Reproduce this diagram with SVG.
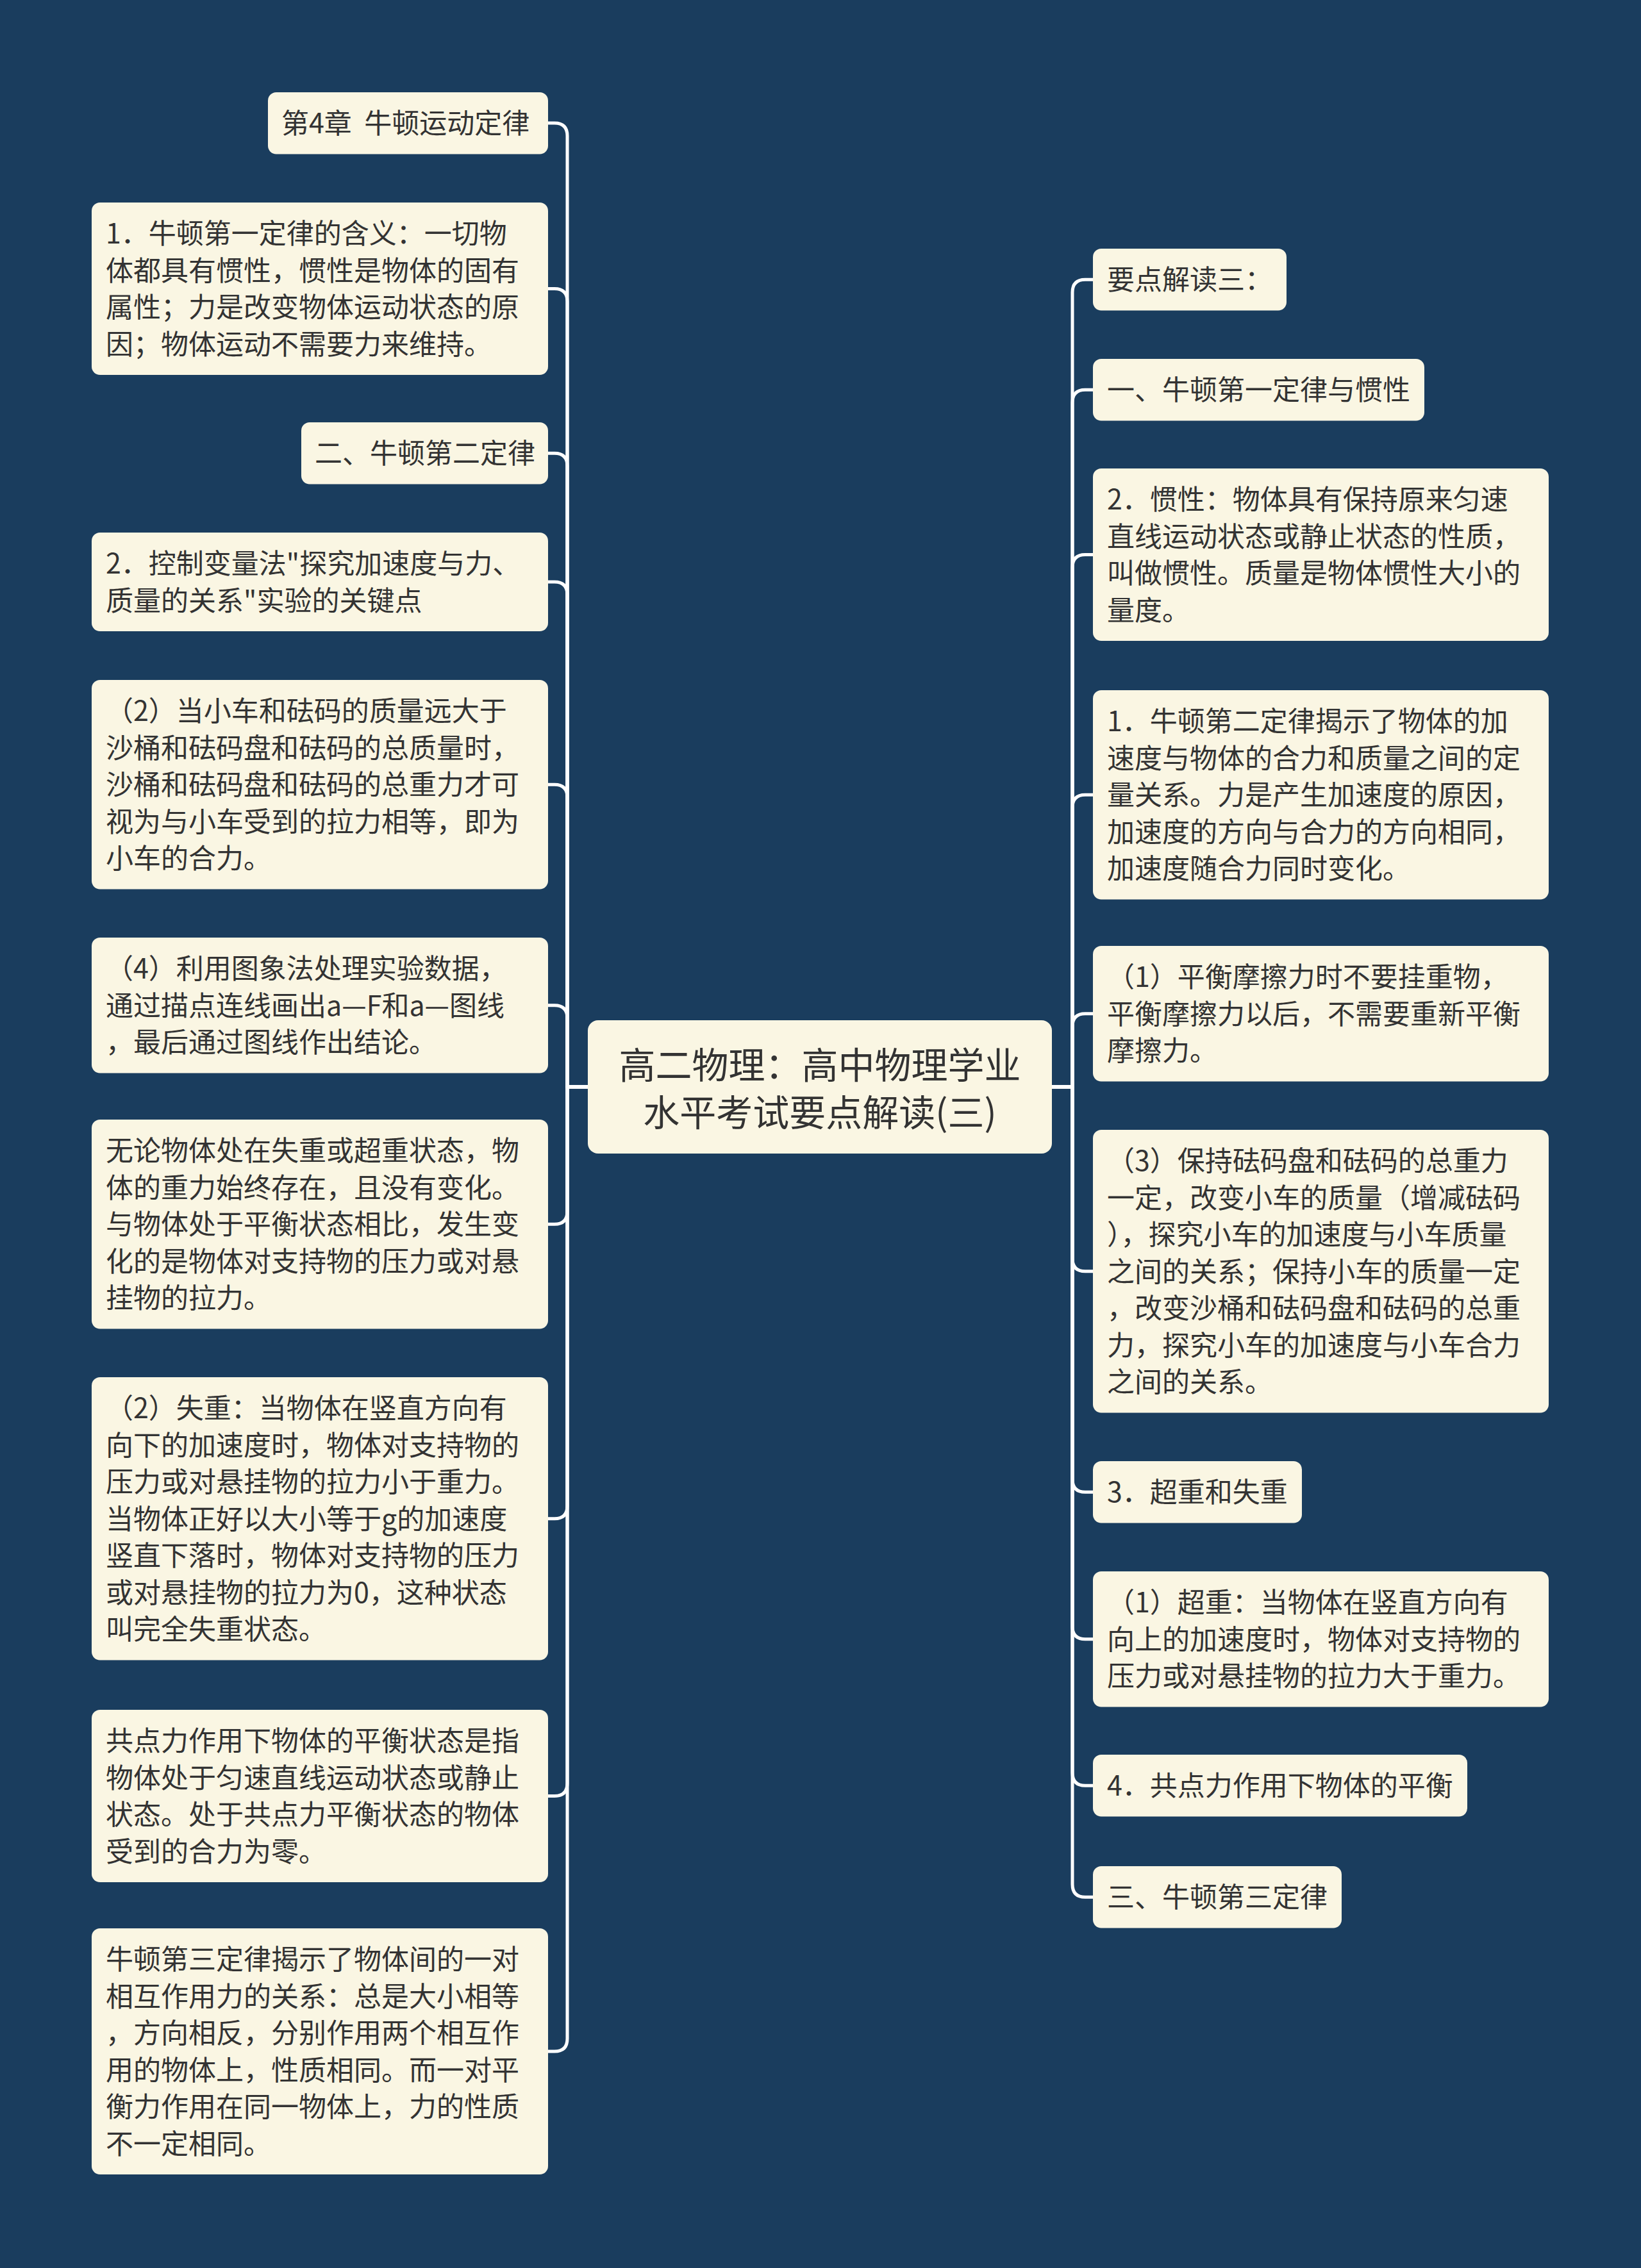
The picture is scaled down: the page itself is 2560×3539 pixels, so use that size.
<svg xmlns="http://www.w3.org/2000/svg" width="2560" height="3539" viewBox="0 0 2560 3539">
<style>
.bg{fill:#1a3d5e}
.box{fill:#faf6e3;stroke:none}
.t{font-family:"Noto Sans CJK SC","Noto Sans",sans-serif;font-size:43px;fill:#333333}
.ct{font-family:"Noto Sans CJK SC","Noto Sans",sans-serif;font-size:57px;fill:#333333;text-anchor:middle}
.ln{fill:none;stroke:#ffffff;stroke-width:5;stroke-linejoin:round;stroke-linecap:round}
</style>
<rect class="bg" x="0" y="0" width="2560" height="3539"/>
<g id="connectors">
<path class="ln" d="M917,1696 H885 V212 Q885,192 865,192 H855"/>
<path class="ln" d="M917,1696 H885 V470.5 Q885,450.5 865,450.5 H855"/>
<path class="ln" d="M917,1696 H885 V727.25 Q885,707.25 865,707.25 H855"/>
<path class="ln" d="M917,1696 H885 V928 Q885,908 865,908 H855"/>
<path class="ln" d="M917,1696 H885 V1244.25 Q885,1224.25 865,1224.25 H855"/>
<path class="ln" d="M917,1696 H885 V1588.75 Q885,1568.75 865,1568.75 H855"/>
<path class="ln" d="M917,1696 H885 V1890.25 Q885,1910.25 865,1910.25 H855"/>
<path class="ln" d="M917,1696 H885 V2349.75 Q885,2369.75 865,2369.75 H855"/>
<path class="ln" d="M917,1696 H885 V2782.5 Q885,2802.5 865,2802.5 H855"/>
<path class="ln" d="M917,1696 H885 V3181 Q885,3201 865,3201 H855"/>
<path class="ln" d="M1641,1696 H1673 V456.25 Q1673,436.25 1693,436.25 H1705"/>
<path class="ln" d="M1641,1696 H1673 V628.25 Q1673,608.25 1693,608.25 H1705"/>
<path class="ln" d="M1641,1696 H1673 V885.5 Q1673,865.5 1693,865.5 H1705"/>
<path class="ln" d="M1641,1696 H1673 V1260.25 Q1673,1240.25 1693,1240.25 H1705"/>
<path class="ln" d="M1641,1696 H1673 V1601.75 Q1673,1581.75 1693,1581.75 H1705"/>
<path class="ln" d="M1641,1696 H1673 V1963.75 Q1673,1983.75 1693,1983.75 H1705"/>
<path class="ln" d="M1641,1696 H1673 V2308.25 Q1673,2328.25 1693,2328.25 H1705"/>
<path class="ln" d="M1641,1696 H1673 V2537.75 Q1673,2557.75 1693,2557.75 H1705"/>
<path class="ln" d="M1641,1696 H1673 V2766.25 Q1673,2786.25 1693,2786.25 H1705"/>
<path class="ln" d="M1641,1696 H1673 V2940.25 Q1673,2960.25 1693,2960.25 H1705"/>
</g>
<g id="center">
<rect class="box" x="917" y="1592" width="724" height="208" rx="16"/>
<text class="ct" x="1279" y="1683">高二物理：高中物理学业</text>
<text class="ct" x="1279" y="1757">水平考试要点解读(三)</text>
</g>
<g id="L1">
<rect class="box" x="418" y="144" width="437" height="96.5" rx="13"/>
<text class="t" x="439" y="208.25" xml:space="preserve">第4章  牛顿运动定律</text>
</g>
<g id="L2">
<rect class="box" x="143" y="316" width="712" height="269" rx="13"/>
<text class="t" x="165" y="380.25">1．牛顿第一定律的含义：一切物</text>
<text class="t" x="165" y="437.75">体都具有惯性，惯性是物体的固有</text>
<text class="t" x="165" y="495.25">属性；力是改变物体运动状态的原</text>
<text class="t" x="165" y="552.75">因；物体运动不需要力来维持。</text>
</g>
<g id="L3">
<rect class="box" x="470" y="659" width="385" height="96.5" rx="13"/>
<text class="t" x="491" y="723.25">二、牛顿第二定律</text>
</g>
<g id="L4">
<rect class="box" x="143" y="831" width="712" height="154" rx="13"/>
<text class="t" x="165" y="895.25">2．控制变量法"探究加速度与力、</text>
<text class="t" x="165" y="952.75">质量的关系"实验的关键点</text>
</g>
<g id="L5">
<rect class="box" x="143" y="1061" width="712" height="326.5" rx="13"/>
<text class="t" x="165" y="1125.25">（2）当小车和砝码的质量远大于</text>
<text class="t" x="165" y="1182.75">沙桶和砝码盘和砝码的总质量时，</text>
<text class="t" x="165" y="1240.25">沙桶和砝码盘和砝码的总重力才可</text>
<text class="t" x="165" y="1297.75">视为与小车受到的拉力相等，即为</text>
<text class="t" x="165" y="1355.25">小车的合力。</text>
</g>
<g id="L6">
<rect class="box" x="143" y="1463" width="712" height="211.5" rx="13"/>
<text class="t" x="165" y="1527.25">（4）利用图象法处理实验数据，</text>
<text class="t" x="165" y="1584.75">通过描点连线画出a—F和a—图线</text>
<text class="t" x="165" y="1642.25">，最后通过图线作出结论。</text>
</g>
<g id="L7">
<rect class="box" x="143" y="1747" width="712" height="326.5" rx="13"/>
<text class="t" x="165" y="1811.25">无论物体处在失重或超重状态，物</text>
<text class="t" x="165" y="1868.75">体的重力始终存在，且没有变化。</text>
<text class="t" x="165" y="1926.25">与物体处于平衡状态相比，发生变</text>
<text class="t" x="165" y="1983.75">化的是物体对支持物的压力或对悬</text>
<text class="t" x="165" y="2041.25">挂物的拉力。</text>
</g>
<g id="L8">
<rect class="box" x="143" y="2149" width="712" height="441.5" rx="13"/>
<text class="t" x="165" y="2213.25">（2）失重：当物体在竖直方向有</text>
<text class="t" x="165" y="2270.75">向下的加速度时，物体对支持物的</text>
<text class="t" x="165" y="2328.25">压力或对悬挂物的拉力小于重力。</text>
<text class="t" x="165" y="2385.75">当物体正好以大小等于g的加速度</text>
<text class="t" x="165" y="2443.25">竖直下落时，物体对支持物的压力</text>
<text class="t" x="165" y="2500.75">或对悬挂物的拉力为0，这种状态</text>
<text class="t" x="165" y="2558.25">叫完全失重状态。</text>
</g>
<g id="L9">
<rect class="box" x="143" y="2668" width="712" height="269" rx="13"/>
<text class="t" x="165" y="2732.25">共点力作用下物体的平衡状态是指</text>
<text class="t" x="165" y="2789.75">物体处于匀速直线运动状态或静止</text>
<text class="t" x="165" y="2847.25">状态。处于共点力平衡状态的物体</text>
<text class="t" x="165" y="2904.75">受到的合力为零。</text>
</g>
<g id="L10">
<rect class="box" x="143" y="3009" width="712" height="384" rx="13"/>
<text class="t" x="165" y="3073.25">牛顿第三定律揭示了物体间的一对</text>
<text class="t" x="165" y="3130.75">相互作用力的关系：总是大小相等</text>
<text class="t" x="165" y="3188.25">，方向相反，分别作用两个相互作</text>
<text class="t" x="165" y="3245.75">用的物体上，性质相同。而一对平</text>
<text class="t" x="165" y="3303.25">衡力作用在同一物体上，力的性质</text>
<text class="t" x="165" y="3360.75">不一定相同。</text>
</g>
<g id="R1">
<rect class="box" x="1705" y="388" width="302" height="96.5" rx="13"/>
<text class="t" x="1727" y="452.25">要点解读三：</text>
</g>
<g id="R2">
<rect class="box" x="1705" y="560" width="517" height="96.5" rx="13"/>
<text class="t" x="1727" y="624.25">一、牛顿第一定律与惯性</text>
</g>
<g id="R3">
<rect class="box" x="1705" y="731" width="711" height="269" rx="13"/>
<text class="t" x="1727" y="795.25">2．惯性：物体具有保持原来匀速</text>
<text class="t" x="1727" y="852.75">直线运动状态或静止状态的性质，</text>
<text class="t" x="1727" y="910.25">叫做惯性。质量是物体惯性大小的</text>
<text class="t" x="1727" y="967.75">量度。</text>
</g>
<g id="R4">
<rect class="box" x="1705" y="1077" width="711" height="326.5" rx="13"/>
<text class="t" x="1727" y="1141.25">1．牛顿第二定律揭示了物体的加</text>
<text class="t" x="1727" y="1198.75">速度与物体的合力和质量之间的定</text>
<text class="t" x="1727" y="1256.25">量关系。力是产生加速度的原因，</text>
<text class="t" x="1727" y="1313.75">加速度的方向与合力的方向相同，</text>
<text class="t" x="1727" y="1371.25">加速度随合力同时变化。</text>
</g>
<g id="R5">
<rect class="box" x="1705" y="1476" width="711" height="211.5" rx="13"/>
<text class="t" x="1727" y="1540.25">（1）平衡摩擦力时不要挂重物，</text>
<text class="t" x="1727" y="1597.75">平衡摩擦力以后，不需要重新平衡</text>
<text class="t" x="1727" y="1655.25">摩擦力。</text>
</g>
<g id="R6">
<rect class="box" x="1705" y="1763" width="711" height="441.5" rx="13"/>
<text class="t" x="1727" y="1827.25">（3）保持砝码盘和砝码的总重力</text>
<text class="t" x="1727" y="1884.75">一定，改变小车的质量（增减砝码</text>
<text class="t" x="1727" y="1942.25">），探究小车的加速度与小车质量</text>
<text class="t" x="1727" y="1999.75">之间的关系；保持小车的质量一定</text>
<text class="t" x="1727" y="2057.25">，改变沙桶和砝码盘和砝码的总重</text>
<text class="t" x="1727" y="2114.75">力，探究小车的加速度与小车合力</text>
<text class="t" x="1727" y="2172.25">之间的关系。</text>
</g>
<g id="R7">
<rect class="box" x="1705" y="2280" width="326" height="96.5" rx="13"/>
<text class="t" x="1727" y="2344.25">3．超重和失重</text>
</g>
<g id="R8">
<rect class="box" x="1705" y="2452" width="711" height="211.5" rx="13"/>
<text class="t" x="1727" y="2516.25">（1）超重：当物体在竖直方向有</text>
<text class="t" x="1727" y="2573.75">向上的加速度时，物体对支持物的</text>
<text class="t" x="1727" y="2631.25">压力或对悬挂物的拉力大于重力。</text>
</g>
<g id="R9">
<rect class="box" x="1705" y="2738" width="584" height="96.5" rx="13"/>
<text class="t" x="1727" y="2802.25">4．共点力作用下物体的平衡</text>
</g>
<g id="R10">
<rect class="box" x="1705" y="2912" width="388" height="96.5" rx="13"/>
<text class="t" x="1727" y="2976.25">三、牛顿第三定律</text>
</g>
</svg>
